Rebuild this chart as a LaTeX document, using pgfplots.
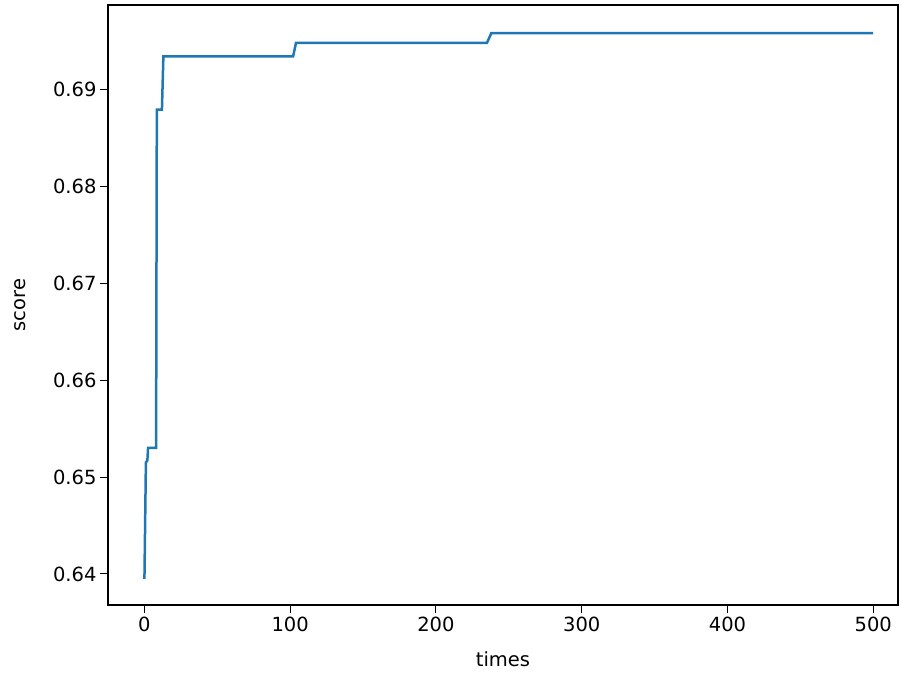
\documentclass[border=0pt]{standalone}
\usepackage{pgfplots}
\pgfplotsset{compat=1.18}
\usepackage{fontspec}
\setmainfont{DejaVu Sans}
\begin{document}
\begin{tikzpicture}
\useasboundingbox (-108pt,-68pt) rectangle (794pt,605pt);
\begin{axis}[at={(0,0)},anchor=south west,width=790pt,height=600pt,scale only axis,
  xmin=-25,xmax=517,ymin=0.6368,ymax=0.6987,
  xtick={0,100,200,300,400,500},
  ytick={0.64,0.65,0.66,0.67,0.68,0.69},
  yticklabel style={/pgf/number format/.cd,fixed,precision=2,fixed zerofill},
  /pgf/number format/assume math mode=true,
  tick label style={font=\fontsize{19.5}{22}\selectfont},
  label style={font=\fontsize{19.5}{22}\selectfont},
  xlabel={times},ylabel={score},
  xlabel style={yshift=-14pt},
  ylabel style={yshift=20pt},
  tick align=outside,
  axis line style={line width=1.2pt},
  tick style={line width=1pt,black},
  xtick pos=bottom, ytick pos=left,
  major tick length=8pt]
\addplot[color={rgb,255:red,31;green,119;blue,180},line width=2.5pt] coordinates {
(0,0.6395)(1,0.6515)(2,0.6517)(2.5,0.6530)(8,0.6530)(8.5,0.6879)(12,0.6879)(13,0.6934)
(102,0.6934)(104,0.6948)(235,0.6948)(238,0.6958)(500,0.6958)};
\end{axis}
\end{tikzpicture}
\end{document}
